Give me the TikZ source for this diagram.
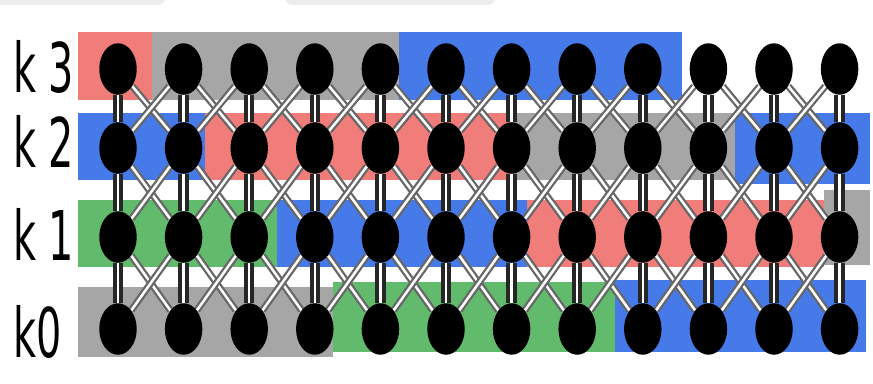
\documentclass[tikz,border=0pt]{standalone}
\usepackage{fontspec}
\setsansfont{DejaVu Sans}
\usetikzlibrary{shapes.geometric,backgrounds}
\definecolor{bandred}{RGB}{240,125,122}
\definecolor{bandgray}{RGB}{166,166,166}
\definecolor{bandblue}{RGB}{70,122,232}
\definecolor{bandgreen}{RGB}{98,186,108}

\begin{document}
\begin{tikzpicture}[x=0.02cm, y=-0.02cm]
\tikzstyle{dot} = [ellipse, fill=black, inner sep=0pt, minimum width=0.75cm, minimum height=1.03cm]
\tikzstyle{vlink} = [draw=black!85, line width=0.08cm, double=white, double distance=0.05cm]
\tikzstyle{cross} = [draw=black!60, line width=0.045cm, double=white, double distance=0.05cm]
\tikzstyle{lbl} = [anchor=base west, inner sep=0pt, font=\sffamily\fontsize{39}{39}\selectfont]

\useasboundingbox (0,0) rectangle (873,383);
\fill[black!7, rounded corners=4pt] (-10,-10) rectangle (165,5);
\fill[black!7, rounded corners=4pt] (285,-10) rectangle (495,5);

% the four rows of knots
\foreach \r/\y in {3/69, 2/148, 1/237, 0/329}
  \foreach \c in {0,...,11}
    \node (n\c-\r) [dot] at ({118+65.6*\c},\y) {};

\node (k3) [lbl] at (13,92) {\scalebox{0.58}[1]{k 3}};
\node (k2) [lbl] at (13,167) {\scalebox{0.58}[1]{k 2}};
\node (k1) [lbl] at (13,260) {\scalebox{0.58}[1]{k 1}};
\node (k0) [lbl] at (13,357) {\scalebox{0.58}[1]{k0}};

\begin{scope}[on background layer]
% colour bands behind each row
\foreach \col/\xa/\xb/\ya/\yb in {
    bandred/78/152/32/100, bandgray/152/399/32/100, bandblue/399/682/32/100,
    bandblue/78/205/113/180, bandred/205/510/113/180, bandgray/510/735/113/180, bandblue/735/870/113/184,
    bandgreen/78/277/200/267, bandblue/277/527/200/267, bandred/527/824/200/267, bandgray/824/870/190/265,
    bandgray/78/333/287/357, bandgreen/333/615/282/352, bandblue/615/866/280/352}
  \fill[\col] (\xa,\ya) rectangle (\xb,\yb);

\foreach \r/\s in {3/2, 2/1, 1/0} {
  \foreach \c [evaluate=\c as \d using int(\c+1)] in {0,...,10} {
    \draw [cross] (n\c-\r) -- (n\d-\s);
    \draw [cross] (n\d-\r) -- (n\c-\s);
  }
  \foreach \c in {0,...,11}
    \draw [vlink] (n\c-\r) -- (n\c-\s);
}
\end{scope}
\end{tikzpicture}
\end{document}
